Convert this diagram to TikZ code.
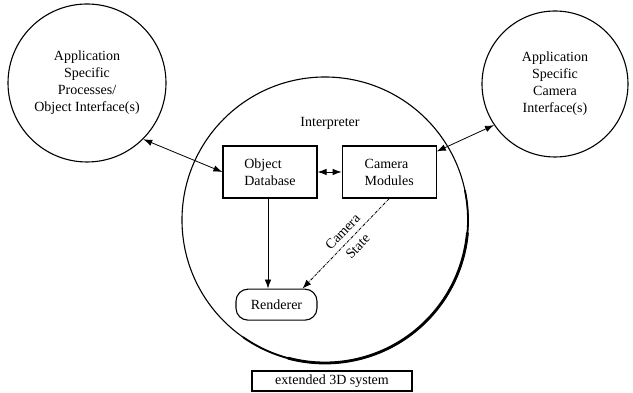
\documentclass[tikz,border=0pt]{standalone}
\usepackage{fontspec}
\setmainfont{Liberation Serif}
\usepackage{tikz}
\usetikzlibrary{arrows.meta, positioning, calc}
\tikzset{
    txt/.style={font=\fontsize{14}{17}\selectfont},
    proc/.style={circle, draw, line width=1.1pt, align=center, txt},
    modbox/.style={rectangle, draw, line width=1.2pt, align=left, minimum width=94pt, minimum height=52pt, inner sep=2pt, txt},
    link/.style={line width=0.8pt},
    tip/.style={-{Latex[length=9pt,width=6.5pt]}},
    dtip/.style={{Latex[length=9pt,width=6.5pt]}-{Latex[length=9pt,width=6.5pt]}},
}

\begin{document}
\begin{tikzpicture}[x=1pt, y=1pt]
    \tikzset{
      node distance=24pt
    }
    \useasboundingbox (0,0) rectangle (633,393);

    % outer processes
    \node[proc, minimum size=158pt] (app) at (87,310) {Application\\Specific\\Processes/\\Object Interface(s)};
    \node[proc, minimum size=146pt] (camif) at (555,309) {Application\\Specific\\Camera\\Interface(s)};

    % the interpreter
    \node[circle, draw, line width=1.1pt, minimum size=286pt] (interp) at (325,173) {};
    \draw[line width=1.8pt] (interp.center) ++(-125:143pt) arc[start angle=-125, end angle=12, radius=143pt];
    \draw[line width=2.8pt] (interp.center) ++(-105:143pt) arc[start angle=-105, end angle=-5, radius=143pt];
    \node[txt] (interplabel) at (330,270) {Interpreter};

    \node[modbox] (objdb) at (270,221) {Object\\Database};
    \node[modbox, right=of objdb] (cammod) {Camera\\Modules};
    \node[rectangle, rounded corners=12pt, draw, line width=1.1pt, minimum width=81pt, minimum height=31pt, txt, below=90pt of objdb, xshift=6.5pt] (rend) {Renderer};

    \draw[link, dtip] (objdb) -- (cammod);
    \draw[link, tip] ([xshift=-2pt]objdb.south) -- ([xshift=-2pt]objdb.south |- rend.north);
    \draw[link, tip, densely dashdotted] (cammod.south) -- node[font=\fontsize{14}{21}\selectfont, sloped, align=center, pos=0.45]{Camera\\State} ([xshift=26pt]rend.north);

    \draw[link, dtip] (app.-45) -- (objdb.west);
    \draw[link, dtip] ([yshift=-6pt]cammod.north east) -- (camif.214);

    % caption box
    \node[draw, line width=1.1pt, minimum width=160pt, minimum height=20pt, inner sep=1pt, txt] (sysname) at (332,12) {extended 3D system};
\end{tikzpicture}
\end{document}
